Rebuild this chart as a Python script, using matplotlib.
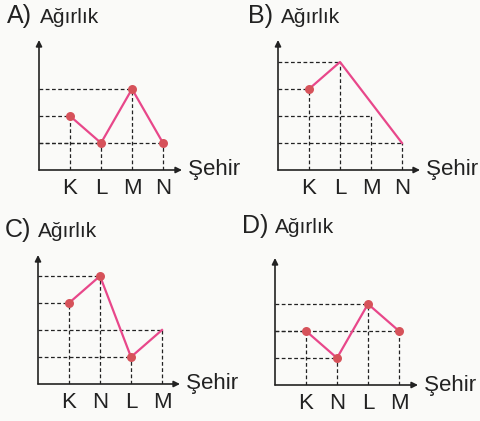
import matplotlib.pyplot as plt

plt.rcParams['font.family'] = ['Liberation Sans', 'DejaVu Sans']

# --- dati (livelli di peso, in unità della griglia) ---
labels_A = ["K", "L", "M", "N"]
values_A = [2, 1, 3, 1]
labels_B = ["K", "L", "M", "N"]
values_B = [3, 4, 2, 1]
labels_C = ["K", "N", "L", "M"]
values_C = [3, 4, 1, 2]
labels_D = ["K", "N", "L", "M"]
values_D = [2, 1, 3, 2]

# which points are joined by the line / marked with a dot
line_idx = {"A": [0, 1, 2, 3], "B": [0, 1, 3], "C": [0, 1, 2, 3], "D": [0, 1, 2, 3]}
dot_idx = {"A": [0, 1, 2, 3], "B": [0], "C": [0, 1, 2], "D": [0, 1, 2, 3]}

LINE = '#e8478a'
DOT = '#d6525a'
INK = '#222222'
BG = '#fafaf8'

W, H = 481, 421
XU, YU = 31.0, 27.0  # pixel per unità

# (lettera, etichette, valori, origine x, origine y, fine freccia x, cima freccia y, titolo x, titolo y)
panels = [
    ("A", labels_A, values_A, 39, 170, 182, 40, 7, 23),
    ("B", labels_B, values_B, 278, 170, 420, 40, 248, 23),
    ("C", labels_C, values_C, 38, 384, 180, 255, 5, 237),
    ("D", labels_D, values_D, 275, 385, 418, 258, 242, 233),
]

fig = plt.figure(figsize=(W / 100, H / 100), dpi=100)
fig.patch.set_facecolor(BG)

for name, labels, values, ox, oy, ax_end, ay_top, tx, ty in panels:
    w = ax_end - ox
    h = oy - ay_top
    ax = fig.add_axes([ox / W, (H - oy) / H, w / W, h / H])
    ax.set_xlim(0, w / XU)
    ax.set_ylim(0, h / YU)
    ax.patch.set_alpha(0)
    for s in ax.spines.values():
        s.set_visible(False)
    ax.set_yticks([])
    xs = [1, 2, 3, 4]
    ax.set_xticks(xs)
    ax.set_xticklabels(labels, fontsize=16, color=INK)
    ax.tick_params(axis='x', length=0, pad=6)

    # linee tratteggiate di riferimento
    for x, v in zip(xs, values):
        ax.plot([0, x], [v, v], ls=(0, (3, 2)), lw=0.9, color=INK, zorder=1)
        ax.plot([x, x], [0, v], ls=(0, (3, 2)), lw=0.9, color=INK, zorder=1)

    lx = [xs[i] for i in line_idx[name]]
    ly = [values[i] for i in line_idx[name]]
    ax.plot(lx, ly, color=LINE, lw=1.6, zorder=3)
    dx = [xs[i] for i in dot_idx[name]]
    dy = [values[i] for i in dot_idx[name]]
    ax.scatter(dx, dy, s=42, color=DOT, zorder=4, linewidths=0)

    # assi con frecce
    ax.annotate('', xy=(1, 0), xytext=(0, 0), xycoords='axes fraction',
                arrowprops=dict(arrowstyle='-|>', color=INK, lw=1.2,
                                mutation_scale=9, shrinkA=0, shrinkB=0))
    ax.annotate('', xy=(0, 1), xytext=(0, 0), xycoords='axes fraction',
                arrowprops=dict(arrowstyle='-|>', color=INK, lw=1.2,
                                mutation_scale=9, shrinkA=0, shrinkB=0))

    ax.text(1.0, 0, ' Şehir', transform=ax.transAxes, ha='left', va='center',
            fontsize=16, color=INK)

    fig.text(tx / W, 1 - ty / H, name + ")", fontsize=18, color=INK,
             ha='left', va='baseline')
    fig.text((tx + 33) / W, 1 - ty / H, "Ağırlık", fontsize=15, color=INK,
             ha='left', va='baseline')

fig.savefig('out.png', dpi=100, facecolor=BG)
